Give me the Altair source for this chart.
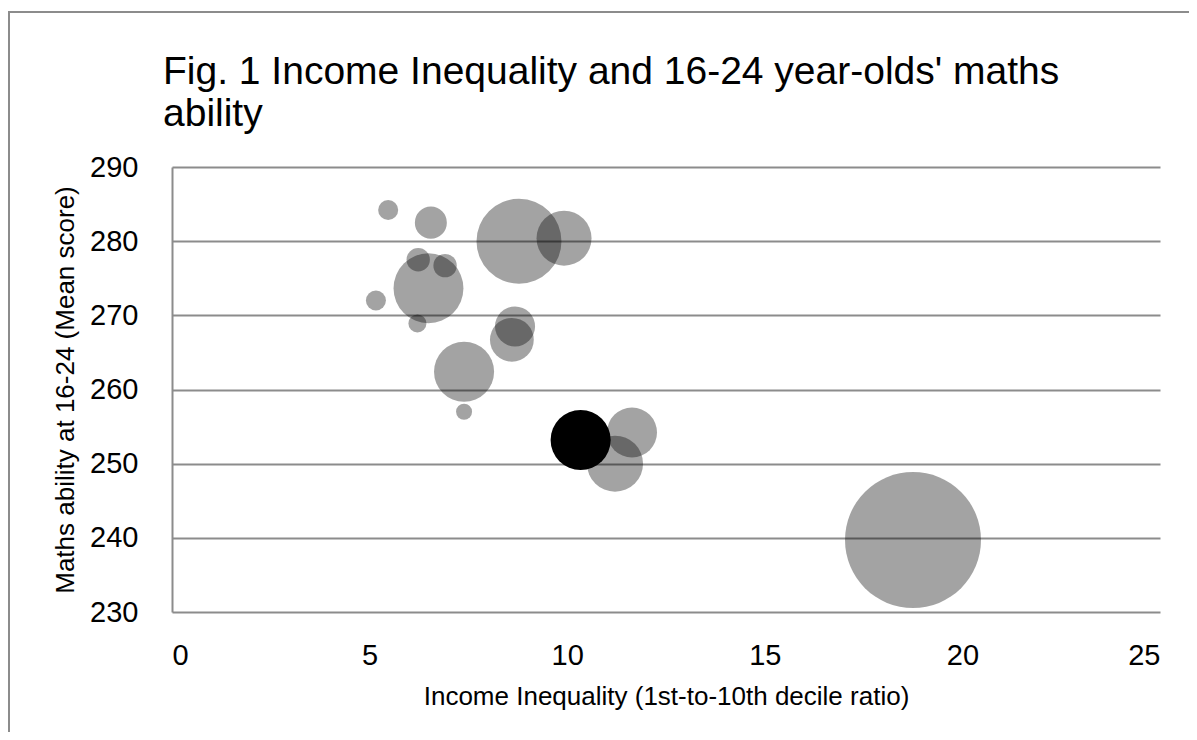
import altair as alt
import pandas as pd

# ---- data ----
title_lines = ["Fig. 1 Income Inequality and 16-24 year-olds' maths", "ability"]
x_title = "Income Inequality (1st-to-10th decile ratio)"
y_title = "Maths ability at 16-24 (Mean score)"
x_ticks = [0, 5, 10, 15, 20, 25]
y_ticks = [230, 240, 250, 260, 270, 280, 290]

inequality = [5.47, 6.55, 8.78, 9.92, 6.23, 6.91, 6.49, 5.16, 6.21, 8.68, 8.60,
              7.39, 7.39, 10.34, 11.64, 11.21, 18.75]
maths = [284.2, 282.5, 280.0, 280.4, 277.5, 276.7, 273.65, 272.0, 268.9, 268.5, 266.7,
         262.4, 257.0, 253.2, 254.2, 250.0, 239.7]
bubble = [6.9, 17.6, 124, 52, 9.4, 9.4, 84, 6.9, 5.6, 27.6, 33,
          62, 4.4, 62, 43, 54, 318]
highlight = [0, 0, 0, 0, 0, 0, 0, 0, 0, 0, 0, 0, 0, 1, 0, 0, 0]

df = pd.DataFrame({
    "inequality": inequality,
    "maths": maths,
    "bubble": bubble,
    "highlight": highlight,
})

FONT = "Liberation Sans"
GRID = "#8c8c8c"
W, H = 988, 445
MAX_R = 68  # radius in px of the largest bubble

bubbles = alt.Chart(df).mark_circle(stroke=None).encode(
    x=alt.X(
        "inequality:Q",
        scale=alt.Scale(domain=[0, 25], nice=False, zero=True),
        axis=alt.Axis(
            values=x_ticks, title=x_title, grid=False, domain=False, ticks=False, tickSize=0,
            labelFont=FONT, labelFontSize=29, labelColor="black", labelPadding=52,
            labelBaseline="alphabetic",
            titleFont=FONT, titleFontSize=26, titleFontWeight="normal", titleColor="black",
            titleBaseline="alphabetic", titleY=92,
        ),
    ),
    y=alt.Y(
        "maths:Q",
        scale=alt.Scale(domain=[230, 290], nice=False, zero=False),
        axis=alt.Axis(
            values=y_ticks, title=y_title, grid=True, gridColor=GRID, gridWidth=2, gridOpacity=1,
            domain=True, domainColor=GRID, domainWidth=2, ticks=False, tickSize=0,
            labelFont=FONT, labelFontSize=29, labelColor="black", labelPadding=34,
            titleFont=FONT, titleFontSize=26, titleFontWeight="normal", titleColor="black",
            titleBaseline="alphabetic", titleAlign="center", titleAngle=270,
            titleX=-99, titleY=H / 2,
        ),
    ),
    size=alt.Size("bubble:Q",
                  scale=alt.Scale(domain=[0, 318], range=[0, (2 * MAX_R) ** 2]),
                  legend=None),
    color=alt.value("#000000"),
    opacity=alt.condition("datum.highlight == 1", alt.value(1.0), alt.value(0.36)),
)

title_df = pd.DataFrame({"t": ["\n".join(title_lines)]})
title = alt.Chart(title_df).mark_text(
    align="left", baseline="alphabetic", font=FONT, fontSize=39, lineBreak="\n",
    lineHeight=42, color="black",
).encode(text="t:N", x=alt.value(-9), y=alt.value(-83))

border_df = pd.DataFrame({"k": [0]})
top_border = alt.Chart(border_df).mark_rule(color=GRID, strokeWidth=2).encode(
    x=alt.value(-164), x2=alt.value(1030), y=alt.value(-155)
)
left_border = alt.Chart(border_df).mark_rule(color=GRID, strokeWidth=2).encode(
    x=alt.value(-163), y=alt.value(-155), y2=alt.value(580)
)

chart = alt.layer(top_border, left_border, bubbles, title).properties(
    width=W, height=H,
    autosize=alt.AutoSizeParams(type="none"),
    padding={"left": 164, "top": 159, "right": 29, "bottom": 120},
    background="white",
).configure_view(stroke=None)

chart.save("out.html", embed_options={"renderer": "svg", "actions": False})
